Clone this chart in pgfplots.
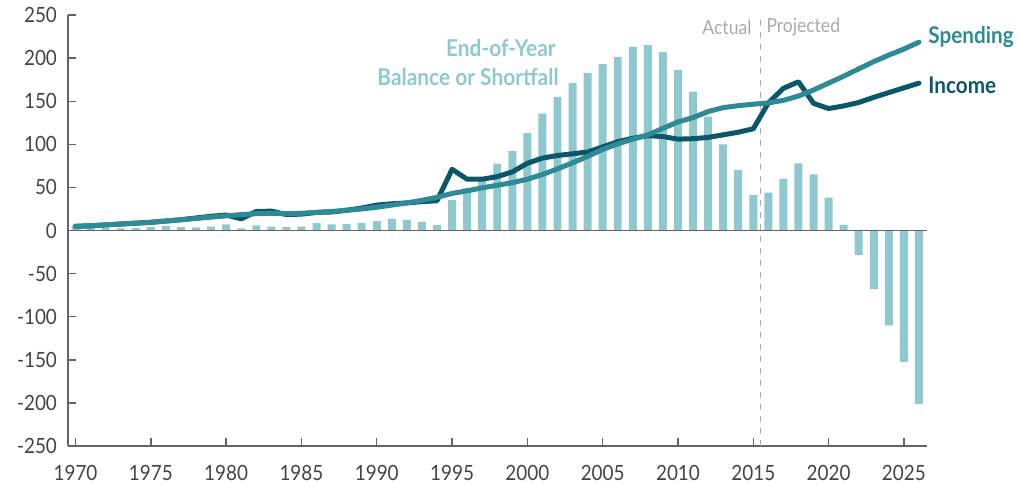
\documentclass[border=0pt]{standalone}
\usepackage{fontspec}
\setmainfont{Lato}[FakeStretch=0.9]
\usepackage{pgfplots}
\pgfplotsset{compat=1.18}
\definecolor{barc}{RGB}{143,201,207}
\definecolor{spendc}{RGB}{46,138,150}
\definecolor{incc}{RGB}{11,87,105}
\definecolor{tickc}{RGB}{68,68,68}
\definecolor{axc}{RGB}{100,100,100}
\definecolor{notec}{RGB}{170,170,170}

\pgfplotstableread{
year val
1970 5
1971 3
1972 3
1973 2.5
1974 3
1975 4
1976 5
1977 4
1978 3.5
1979 4.5
1980 7
1981 2.5
1982 6
1983 4.6
1984 3.8
1985 4.6
1986 8.5
1987 7.2
1988 7.5
1989 8.7
1990 11
1991 13.5
1992 12.2
1993 10
1994 6.2
1995 35.5
1996 49.5
1997 58.5
1998 77.5
1999 92
2000 113
2001 135.5
2002 155
2003 171
2004 183
2005 193
2006 201
2007 213
2008 215
2009 207
2010 186
2011 161
2012 132
2013 100
2014 70
2015 41
2016 44
2017 60
2018 78
2019 65
2020 38
2021 6.5
2022 -28.5
2023 -68
2024 -110
2025 -152.5
2026 -201
}\balance

\pgfplotstableread{
year val
1970 5
1971 5.5
1972 6.5
1973 7.5
1974 8.5
1975 9.5
1976 11
1977 12.5
1978 14.5
1979 16.5
1980 18
1981 13.5
1982 22
1983 22.5
1984 18.5
1985 19
1986 21
1987 21.5
1988 23.5
1989 26
1990 29.5
1991 31
1992 32
1993 33.5
1994 34.5
1995 71
1996 59.5
1997 59.5
1998 62.5
1999 68
2000 78
2001 84
2002 87
2003 89
2004 91
2005 97
2006 103
2007 107
2008 110
2009 109
2010 106
2011 106.5
2012 108
2013 111
2014 114
2015 118
2016 148
2017 165
2018 172.5
2019 147.5
2020 141.5
2021 144.5
2022 148.5
2023 154.5
2024 160
2025 165.5
2026 171
}\income

\pgfplotstableread{
year val
1970 4.5
1971 5.5
1972 6.5
1973 7.5
1974 8.5
1975 9.5
1976 11
1977 12.5
1978 14
1979 15.5
1980 17
1981 18.5
1982 19.5
1983 20
1984 19.5
1985 20
1986 21
1987 22
1988 23.5
1989 25
1990 27
1991 29.5
1992 32
1993 35
1994 38.5
1995 43
1996 46
1997 49.5
1998 52.5
1999 55.5
2000 59.5
2001 65
2002 71.5
2003 78.5
2004 86
2005 94
2006 100.5
2007 106
2008 111
2009 118.5
2010 126
2011 131
2012 138
2013 142.5
2014 144.8
2015 146.5
2016 148
2017 151
2018 156
2019 163
2020 171
2021 179
2022 187.5
2023 196
2024 203.5
2025 210.5
2026 218.5
}\spending

\begin{document}
\begin{tikzpicture}
\path[use as bounding box] (-34pt,-19pt) rectangle (475pt,223pt);
\begin{axis}[
  scale only axis,
  width=429.25pt, height=215.5pt,
  xmin=1969.5, xmax=2026.5,
  ymin=-250, ymax=250,
  axis lines*=left,
  axis line style={axc, line width=0.8pt},
  xtick={1970,1975,...,2025},
  ytick={-250,-200,...,250},
  tick align=inside,
  major tick length=4pt,
  tick style={axc, line width=0.7pt},
  /pgf/number format/1000 sep={},
  /pgf/number format/assume math mode=true,
  ticklabel style={font=\fontsize{10.5}{12}\selectfont, text=tickc},
  xticklabel style={yshift=-6pt},
  yticklabel style={xshift=-2pt},
  clip=false,
]
\addplot[ybar, bar width=0.53, fill=barc, draw=none, bar shift=0pt] table[x=year,y=val] {\balance};
\draw[axc, line width=0.8pt] (axis cs:1969.5,0) -- (axis cs:2026.5,0);
\draw[notec, dashed, line width=0.6pt] (axis cs:2015.5,-250) -- (axis cs:2015.5,250);
\addplot[incc, line width=2.5pt, line join=round, line cap=round] table[x=year,y=val] {\income};
\addplot[spendc, line width=2.5pt, line join=round, line cap=round] table[x=year,y=val] {\spending};
\node[anchor=east, text=barc, inner xsep=0pt, font=\bfseries\fontsize{11.6}{13}\selectfont] at (axis cs:2001.9,211.7) {End-of-Year};
\node[anchor=east, text=barc, inner xsep=0pt, font=\bfseries\fontsize{11.6}{13}\selectfont] at (axis cs:2002.1,178) {Balance or Shortfall};
\node[anchor=east, text=notec, inner xsep=0pt, font=\fontsize{9.75}{11}\selectfont] at (axis cs:2014.9,236) {Actual};
\node[anchor=west, text=notec, inner xsep=0pt, font=\fontsize{9.75}{11}\selectfont] at (axis cs:2015.85,236) {Projected};
\node[anchor=west, text=spendc, font=\bfseries\fontsize{11.5}{13}\selectfont, inner xsep=0pt] at (axis cs:2026.6,224.5) {Spending};
\node[anchor=west, text=incc, font=\bfseries\fontsize{11.5}{13}\selectfont, inner xsep=0pt] at (axis cs:2026.6,168.7) {Income};
\end{axis}
\end{tikzpicture}
\end{document}
